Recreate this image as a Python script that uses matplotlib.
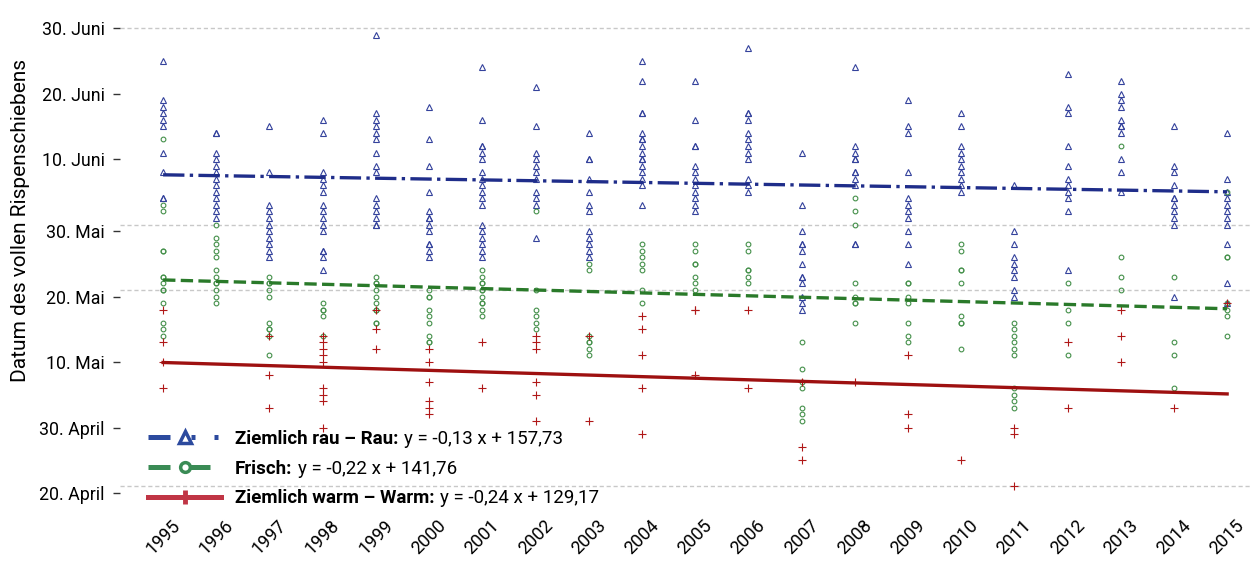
import datetime as dt

import matplotlib
matplotlib.use("Agg")
import matplotlib.pyplot as plt
from matplotlib.lines import Line2D

plt.rcParams['font.family'] = ['Roboto', 'DejaVu Sans']

years = list(range(1995, 2016))

# Tag im Jahr (1 = 1. Januar) des vollen Rispenschiebens, je Jahr eine Liste
rau_days = [
    [176, 170, 169, 168, 167, 166, 162, 159, 155, 155],
    [165, 165, 162, 161, 160, 159, 158, 157, 156, 155, 154, 153, 152],
    [166, 159, 154, 153, 152, 151, 150, 149, 148, 147, 146],
    [167, 165, 159, 158, 157, 156, 154, 153, 152, 151, 150, 147, 147, 146, 144],
    [180, 168, 167, 166, 165, 164, 162, 160, 159, 155, 154, 153, 152, 151, 151],
    [169, 164, 160, 156, 153, 152, 152, 151, 150, 148, 148, 147, 146],
    [175, 167, 163, 163, 162, 161, 159, 158, 157, 156, 155, 154, 151, 150, 149, 148, 147, 146],
    [172, 166, 162, 161, 160, 159, 158, 156, 155, 154, 149],
    [165, 161, 161, 158, 156, 154, 153, 150, 149, 148, 147, 146],
    [176, 173, 168, 168, 165, 164, 164, 163, 162, 161, 161, 160, 159, 158, 157, 154],
    [173, 167, 163, 163, 160, 159, 158, 157, 156, 155, 154, 153],
    [178, 168, 168, 167, 165, 164, 163, 162, 161, 158, 157, 156],
    [162, 154, 150, 148, 148, 147, 145, 143, 143, 142, 140, 139, 138],
    [175, 163, 162, 161, 161, 159, 159, 158, 157, 148, 148],
    [170, 166, 165, 159, 155, 154, 153, 152, 150, 148, 145],
    [168, 166, 163, 162, 161, 160, 159, 158, 157, 156],
    [157, 150, 148, 146, 145, 144, 143, 141, 140],
    [174, 169, 168, 163, 160, 158, 157, 156, 155, 153, 144],
    [173, 171, 170, 169, 167, 166, 166, 165, 161, 159, 156],
    [166, 160, 159, 157, 155, 155, 154, 153, 152, 151, 140],
    [165, 158, 156, 155, 154, 153, 152, 151, 148, 142, 139],
]
frisch_days = [
    [164, 154, 153, 147, 147, 143, 143, 142, 141, 141, 139, 136, 135, 134],
    [151, 149, 148, 147, 146, 144, 143, 142, 142, 141, 140, 139],
    [143, 142, 142, 141, 140, 136, 135, 135, 134, 131],
    [139, 138, 138, 137, 134],
    [143, 142, 142, 141, 140, 139, 138, 138, 136, 136],
    [141, 140, 140, 138, 137, 136, 134, 133, 133],
    [144, 143, 142, 142, 141, 141, 140, 139, 139, 138, 137],
    [153, 141, 138, 137, 136, 135],
    [145, 144, 134, 133, 133, 132, 131],
    [148, 147, 146, 145, 144, 141, 139],
    [148, 147, 145, 145, 143, 142, 141],
    [148, 147, 144, 144, 143, 142],
    [133, 129, 127, 126, 123, 122, 121],
    [155, 153, 151, 142, 140, 139, 139, 136],
    [142, 142, 140, 139, 136, 134, 133],
    [148, 147, 144, 144, 142, 137, 136, 136, 132],
    [136, 135, 134, 133, 132, 131, 126, 125, 124, 123],
    [142, 138, 136, 131],
    [163, 146, 143, 141],
    [143, 133, 131, 126],
    [156, 146, 146, 139, 138, 137, 134],
]
warm_days = [
    [138, 133, 130, 126],
    [],
    [134, 128, 123],
    [134, 133, 132, 131, 130, 126, 125, 124, 120],
    [138, 135, 132],
    [132, 130, 127, 124, 123, 122],
    [133, 126],
    [134, 133, 132, 127, 125, 121],
    [134, 121],
    [137, 135, 131, 126, 119],
    [138, 138, 128],
    [138, 126],
    [127, 117, 115],
    [127],
    [131, 122, 120],
    [115],
    [120, 119, 111],
    [133, 123],
    [138, 134, 130],
    [123],
    [139],
]

# Regressionsgeraden (x = 1 fuer 1995, y = Tage seit 1. Januar)
slopes = [-0.13, -0.22, -0.24]
intercepts = [157.73, 141.76, 129.17]
names = ['Ziemlich rau – Rau:', 'Frisch:', 'Ziemlich warm – Warm:']
equations = ['y = -0,13 x + 157,73', 'y = -0,22 x + 141,76', 'y = -0,24 x + 129,17']

tick_dates = [(6, 30), (6, 20), (6, 10), (5, 30), (5, 20), (5, 10), (4, 30), (4, 20)]
tick_labels = ['30. Juni', '20. Juni', '10. Juni', '30. Mai', '20. Mai',
               '10. Mai', '30. April', '20. April']
grid_days = [110, 140, 150, 180]


def day0(m, d):
    # Tage seit 1. Januar (Nicht-Schaltjahr)
    return (dt.date(2001, m, d) - dt.date(2001, 1, 1)).days


groups = [rau_days, frisch_days, warm_days]
markers = ['^', 'o', '+']
msizes = [4.2, 3.4, 6]
point_cols = ['#34429c', '#44904a', '#b01818']
line_cols = ['#1f2d8a', '#2a7a2a', '#9e1010']
line_styles = ['-.', '--', '-']
leg_cols = ['#2c4a9e', '#3a8b55', '#c03545']
leg_dashes = [(4.4, 4.2, 0.8, 3.8, 0.8, 10), (4.4, 4.0, 4.0, 4.0), None]

fig = plt.figure(figsize=(12.58, 5.63), dpi=100)
ax = fig.add_axes([120 / 1258, 53 / 563, 1130 / 1258, 510 / 563])

for gy in grid_days:
    ax.axhline(gy, color='#c8c8c8', lw=1, ls=(0, (3, 2)), zorder=0)

for days, mk, ms, col in zip(groups, markers, msizes, point_cols):
    xs, ys = [], []
    for yr, vals in zip(years, days):
        xs += [yr] * len(vals)
        ys += [v - 1 for v in vals]
    ax.plot(xs, ys, ls='none', marker=mk, ms=ms, mfc='none', mec=col,
            mew=0.8, zorder=2)

xi = list(range(1, len(years) + 1))
for k in range(3):
    ty = [slopes[k] * x + intercepts[k] for x in xi]
    ax.plot(years, ty, color=line_cols[k], ls=line_styles[k], lw=2.4, zorder=3)

ax.set_xlim(1994.19, 2015.43)
ax.set_ylim(106.4, 184.3)
ax.set_xticks(years)
ax.set_xticklabels([str(y) for y in years], rotation=45, ha='center', fontsize=13)
ax.tick_params(axis='x', length=0, pad=5)
ax.set_yticks([day0(m, d) for m, d in tick_dates])
ax.set_yticklabels(tick_labels, fontsize=12.8)
ax.tick_params(axis='y', length=5, width=1, color='#333333', pad=6)
for s in ax.spines.values():
    s.set_visible(False)

ax.set_ylabel('Datum des vollen Rispenschiebens', fontsize=15)
ax.yaxis.set_label_coords(-0.08, 0.567)

handles = []
for k in range(3):
    h = Line2D([], [], color=leg_cols[k], lw=3.6, marker=markers[k],
               ms=[8, 7, 10][k], mew=[2.5, 2.5, 3.5][k], mfc='none',
               mec=leg_cols[k])
    if leg_dashes[k] is not None:
        h.set_dashes(leg_dashes[k])
    handles.append(h)

leg = ax.legend(handles, names, loc='upper left', bbox_to_anchor=(148 / 1258, 1 - 430 / 563),
                bbox_transform=fig.transFigure, frameon=False, borderpad=0,
                borderaxespad=0, handlelength=3.9, handletextpad=0.75,
                labelspacing=0.62, numpoints=1, prop={'weight': 'bold', 'size': 13.5})
for t, eq in zip(leg.get_texts(), equations):
    ax.annotate(eq, xy=(1, 0), xycoords=t, xytext=(4, 0), textcoords='offset points',
                ha='left', va='bottom', fontsize=13.5, zorder=6)

fig.canvas.draw()
fig.savefig('out.png', dpi=100)
